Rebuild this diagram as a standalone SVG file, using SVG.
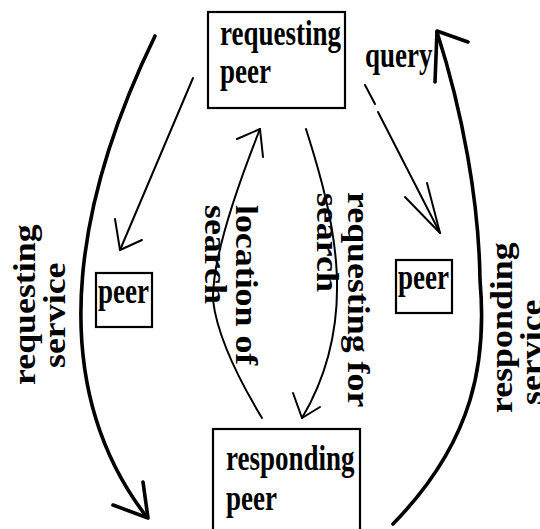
<svg xmlns="http://www.w3.org/2000/svg" width="540" height="529" viewBox="0 0 540 529">
<style>
.box{fill:#fff;stroke:#000;stroke-width:2.2}
.t{font-family:"Liberation Serif","Times New Roman",serif;font-weight:bold;font-size:27px;fill:#000}
.r{font-family:"Liberation Serif","Times New Roman",serif;font-weight:bold;font-size:32px;fill:#000}
.thin{fill:none;stroke:#000;stroke-width:2;stroke-linecap:round;stroke-linejoin:round}
.thick{fill:none;stroke:#000;stroke-width:3.6;stroke-linecap:round;stroke-linejoin:round}
</style>
<rect width="540" height="529" fill="#fff"/>
<g id="connectors">
  <!-- requesting service (left thick) -->
  <path class="thick" d="M155,36 C85,180 35,370 146,516"/>
  <path class="thick" d="M113,505 L148,518 L143,482"/>
  <!-- requesting peer to left peer -->
  <path class="thin" d="M193,78 L120,250"/>
  <path class="thin" d="M115,219 L120,250 L142,240"/>
  <!-- query (to right peer) -->
  <path class="thin" d="M365,85 L375,104"/>
  <path class="thin" d="M378,112 L440,233"/>
  <path class="thin" d="M405,197 L440,233 L427,183"/>
  <!-- location of search -->
  <path class="thin" d="M262,418 Q218,345 213,300 Q212,250 260,129"/>
  <path class="thin" d="M237,139 L260,129 L263,157"/>
  <!-- requesting for search -->
  <path class="thin" d="M306,129 C335,220 360,320 302,418"/>
  <path class="thin" d="M293,393 L302,418 L320,407"/>
  <!-- responding service (right thick) -->
  <path class="thick" d="M393,524 C475,440 487,360 480,280 C479,200 462,110 437,32"/>
  <path class="thick" d="M435,82 L437,31 L468,42"/>
</g>
<g id="requesting-peer">
  <rect class="box" x="208" y="12" width="137" height="96"/>
  <text class="t" transform="translate(220,45) scale(1,1.35)">requesting</text>
  <text class="t" transform="translate(220,83) scale(1,1.35)">peer</text>
</g>
<g id="peer-left">
  <rect class="box" x="96" y="273" width="56" height="54"/>
  <text class="t" transform="translate(98,303) scale(1,1.35)">peer</text>
</g>
<g id="peer-right">
  <rect class="box" x="396" y="260" width="56" height="53"/>
  <text class="t" transform="translate(398,289) scale(1,1.35)">peer</text>
</g>
<g id="responding-peer">
  <rect class="box" x="213" y="429" width="147" height="110"/>
  <text class="t" transform="translate(226,470) scale(1,1.35)">responding</text>
  <text class="t" transform="translate(226,510) scale(1,1.35)">peer</text>
</g>
<g id="labels">
  <text class="t" transform="translate(365,67) scale(1,1.35)">query</text>
  <text class="r" transform="translate(35,385) rotate(-90) scale(1.12,1)">requesting</text>
  <text class="r" transform="translate(65,368) rotate(-90) scale(1.12,1)">service</text>
  <text class="r" transform="translate(512,413) rotate(-90) scale(1.12,1)">responding</text>
  <text class="r" transform="translate(542,405) rotate(-90) scale(1.12,1)">service</text>
  <text class="r" transform="translate(236,205) rotate(90) scale(1.12,1)">location of</text>
  <text class="r" transform="translate(205,205) rotate(90) scale(1.12,1)">search</text>
  <text class="r" transform="translate(348,192) rotate(90) scale(1.12,1)">requesting for</text>
  <text class="r" transform="translate(317,193) rotate(90) scale(1.12,1)">search</text>
</g>
</svg>
